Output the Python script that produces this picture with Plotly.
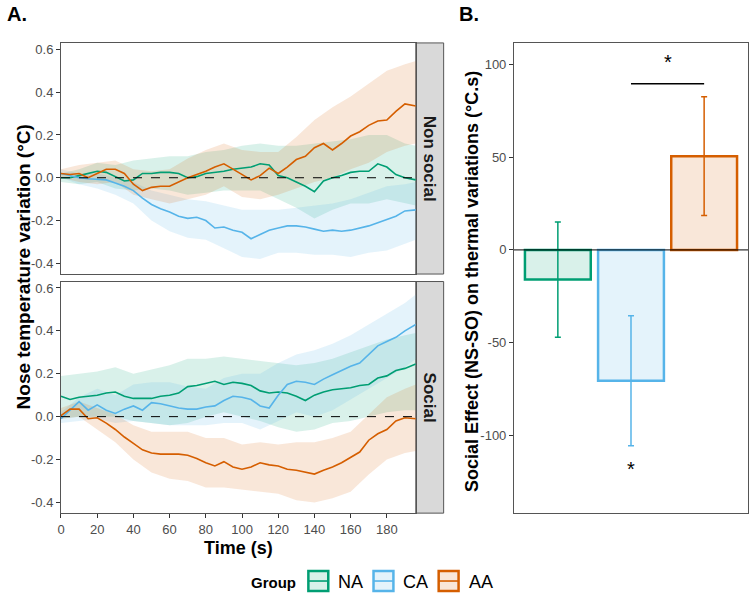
import plotly.graph_objects as go

# ---------------- data ----------------
GROUPS = ["NA", "CA", "AA"]
FACETS = ["Non social", "Social"]

# time grid for mean lines (s)
T = [0, 5, 10, 15, 20, 25, 30, 35, 40, 45, 50, 55, 60, 65, 70, 75, 80, 85, 90, 95,
     100, 105, 110, 115, 120, 125, 130, 135, 140, 145, 150, 155, 160, 165, 170, 175,
     180, 185, 190, 196]
# time grid for ribbons (s)
TR = [0, 10, 20, 30, 40, 50, 60, 70, 80, 90, 100, 110, 120, 130, 140, 150, 160, 170,
      180, 190, 196]

# Non social facet
NA_NS_MEAN = [0.0, 0.0, 0.01, 0.02, 0.03, 0.025, 0.005, -0.015, -0.01, 0.02,
              0.02, 0.025, 0.025, 0.02, 0.0, 0.005, 0.02, 0.025, 0.03, 0.04,
              0.045, 0.05, 0.065, 0.06, 0.01, 0.0, -0.02, -0.04, -0.065, -0.015,
              0.0, 0.01, 0.025, 0.03, 0.03, 0.065, 0.05, 0.015, 0.0, -0.01]
CA_NS_MEAN = [0.02, 0.01, 0.0, -0.005, -0.008, -0.01, -0.025, -0.04, -0.06, -0.095,
              -0.125, -0.145, -0.16, -0.18, -0.19, -0.185, -0.2, -0.235, -0.23, -0.245,
              -0.255, -0.285, -0.265, -0.245, -0.235, -0.225, -0.225, -0.23, -0.24, -0.25,
              -0.245, -0.25, -0.245, -0.235, -0.225, -0.21, -0.195, -0.18, -0.155, -0.15]
AA_NS_MEAN = [0.02, 0.015, 0.02, 0.0, 0.02, 0.04, 0.04, 0.02, -0.03, -0.06,
              -0.045, -0.04, -0.04, -0.02, 0.0, 0.015, 0.03, 0.05, 0.065, 0.04,
              0.015, -0.01, 0.01, 0.045, 0.02, 0.05, 0.085, 0.1, 0.14, 0.16,
              0.13, 0.16, 0.195, 0.215, 0.245, 0.265, 0.27, 0.31, 0.345, 0.335]

NA_NS_LO = [-0.02, -0.03, -0.02, -0.05, -0.06, -0.05, -0.06, -0.08, -0.07, -0.06, -0.06,
            -0.06, -0.1, -0.14, -0.19, -0.15, -0.12, -0.12, -0.1, -0.12, -0.13]
NA_NS_HI = [0.02, 0.04, 0.07, 0.06, 0.08, 0.09, 0.1, 0.1, 0.12, 0.13, 0.15,
            0.16, 0.15, 0.15, 0.16, 0.17, 0.18, 0.2, 0.2, 0.16, 0.15]
CA_NS_LO = [0.0, -0.03, -0.05, -0.08, -0.12, -0.2, -0.25, -0.28, -0.29, -0.33, -0.37,
            -0.38, -0.35, -0.35, -0.36, -0.36, -0.37, -0.35, -0.34, -0.31, -0.29]
CA_NS_HI = [0.04, 0.02, 0.02, 0.0, -0.02, -0.06, -0.08, -0.1, -0.11, -0.13, -0.15,
            -0.15, -0.15, -0.14, -0.13, -0.12, -0.1, -0.07, -0.04, -0.03, -0.02]
AA_NS_LO = [0.0, -0.02, -0.03, -0.02, -0.08, -0.1, -0.12, -0.1, -0.08, -0.04, -0.09,
            -0.1, -0.08, -0.05, -0.02, 0.0, 0.04, 0.07, 0.12, 0.15, 0.16]
AA_NS_HI = [0.04, 0.06, 0.07, 0.08, 0.04, 0.03, 0.04, 0.09, 0.13, 0.16, 0.13,
            0.12, 0.12, 0.19, 0.27, 0.33, 0.38, 0.44, 0.5, 0.53, 0.545]

# Social facet
NA_S_MEAN = [0.095, 0.08, 0.09, 0.095, 0.1, 0.11, 0.115, 0.095, 0.085, 0.085,
             0.085, 0.095, 0.1, 0.11, 0.14, 0.145, 0.155, 0.165, 0.15, 0.16,
             0.155, 0.145, 0.12, 0.11, 0.115, 0.11, 0.095, 0.075, 0.1, 0.115,
             0.125, 0.13, 0.135, 0.145, 0.15, 0.18, 0.19, 0.215, 0.225, 0.245]
CA_S_MEAN = [-0.01, 0.03, 0.07, 0.03, 0.055, 0.03, 0.015, 0.035, 0.05, 0.03,
             0.065, 0.06, 0.05, 0.04, 0.035, 0.035, 0.045, 0.05, 0.075, 0.095,
             0.09, 0.08, 0.05, 0.04, 0.1, 0.15, 0.165, 0.16, 0.15, 0.175,
             0.195, 0.215, 0.235, 0.25, 0.29, 0.33, 0.35, 0.37, 0.4, 0.43]
AA_S_MEAN = [0.005, 0.035, 0.035, -0.01, -0.005, -0.03, -0.06, -0.095, -0.125, -0.155,
             -0.17, -0.175, -0.175, -0.175, -0.18, -0.195, -0.215, -0.23, -0.21, -0.235,
             -0.245, -0.235, -0.215, -0.225, -0.23, -0.245, -0.25, -0.26, -0.268, -0.25,
             -0.235, -0.215, -0.19, -0.165, -0.11, -0.08, -0.06, -0.02, -0.005, -0.01]

NA_S_LO = [-0.01, 0.0, 0.0, 0.0, -0.02, -0.03, -0.04, -0.03, 0.0, 0.02, 0.0,
           -0.02, -0.05, -0.07, -0.06, -0.03, -0.02, 0.0, 0.02, 0.03, 0.03]
NA_S_HI = [0.19, 0.2, 0.21, 0.23, 0.2, 0.22, 0.24, 0.27, 0.27, 0.28, 0.27,
           0.26, 0.25, 0.24, 0.25, 0.27, 0.3, 0.33, 0.36, 0.38, 0.39]
CA_S_LO = [-0.03, -0.02, -0.01, -0.03, -0.02, -0.03, -0.04, -0.04, -0.04, -0.03, -0.03,
           -0.06, -0.02, 0.02, 0.0, 0.03, 0.08, 0.13, 0.18, 0.23, 0.27]
CA_S_HI = [0.02, 0.09, 0.13, 0.1, 0.15, 0.16, 0.16, 0.14, 0.13, 0.18, 0.2,
           0.2, 0.25, 0.29, 0.31, 0.34, 0.38, 0.43, 0.48, 0.53, 0.57]
AA_S_LO = [-0.01, 0.0, -0.06, -0.12, -0.2, -0.26, -0.29, -0.3, -0.33, -0.33, -0.34,
           -0.35, -0.36, -0.39, -0.4, -0.38, -0.35, -0.27, -0.2, -0.17, -0.16]
AA_S_HI = [0.04, 0.07, 0.04, 0.01, -0.04, -0.07, -0.07, -0.07, -0.1, -0.1, -0.13,
           -0.12, -0.13, -0.12, -0.12, -0.1, -0.07, 0.01, 0.09, 0.13, 0.15]

# Panel B: social effect (NS-SO) and SE
SOCIAL_EFFECT = [-16, -70.5, 50.5]
SOCIAL_SE = [31, 35, 32]
SIG_PAIR = ["CA", "AA"]
SIG_LINE_Y = 89.5
SIG_STAR_Y = [101, -116]   # bracket star, star under CA

TIME_TICKS = [0, 20, 40, 60, 80, 100, 120, 140, 160, 180]
TEMP_TICKS = [-0.4, -0.2, 0.0, 0.2, 0.4, 0.6]
TEMP_TICK_TEXT = ["-0.4", "-0.2", "0.0", "0.2", "0.4", "0.6"]
EFF_TICKS = [-100, -50, 0, 50, 100]
EFF_TICK_TEXT = ["-100", "-50", "0", "50", "100"]

# ---------------- styles ----------------
W, H = 752, 593
COLORS = {"NA": "#009E73", "CA": "#56B4E9", "AA": "#D55E00"}
FILLS = {"NA": "rgba(0,158,115,0.15)", "CA": "rgba(86,180,233,0.16)", "AA": "rgba(213,94,0,0.15)"}
FONT = "Liberation Sans, Arial, sans-serif"
TICKCOL = "#4D4D4D"
BORDER = "#555555"


def px(x):
    return x / W


def py(y):
    return 1 - y / H


series = {
    "Non social": {
        "NA": (NA_NS_MEAN, NA_NS_LO, NA_NS_HI),
        "CA": (CA_NS_MEAN, CA_NS_LO, CA_NS_HI),
        "AA": (AA_NS_MEAN, AA_NS_LO, AA_NS_HI),
    },
    "Social": {
        "NA": (NA_S_MEAN, NA_S_LO, NA_S_HI),
        "CA": (CA_S_MEAN, CA_S_LO, CA_S_HI),
        "AA": (AA_S_MEAN, AA_S_LO, AA_S_HI),
    },
}

fig = go.Figure()
axes = {"Non social": ("x", "y"), "Social": ("x2", "y2")}

for facet in FACETS:
    xa, ya = axes[facet]
    # ribbons
    for g in GROUPS:
        m, lo, hi = series[facet][g]
        fig.add_trace(go.Scatter(
            x=TR + TR[::-1], y=hi + lo[::-1], fill="toself", fillcolor=FILLS[g],
            line=dict(width=0), mode="lines", hoverinfo="skip", showlegend=False,
            xaxis=xa, yaxis=ya))
    # mean lines
    for g in GROUPS:
        m, lo, hi = series[facet][g]
        fig.add_trace(go.Scatter(
            x=T, y=m, mode="lines", line=dict(color=COLORS[g], width=1.6),
            showlegend=False, xaxis=xa, yaxis=ya))

# Panel B bars
for g, v, se in zip(GROUPS, SOCIAL_EFFECT, SOCIAL_SE):
    fig.add_trace(go.Bar(
        x=[g], y=[v], width=0.9, marker=dict(color=FILLS[g], line=dict(color=COLORS[g], width=2.5)),
        error_y=dict(type="data", array=[se], color=COLORS[g], thickness=1.5, width=3),
        showlegend=False, xaxis="x3", yaxis="y3"))

# significance bracket
fig.add_trace(go.Scatter(x=SIG_PAIR, y=[SIG_LINE_Y, SIG_LINE_Y], mode="lines",
                         line=dict(color="black", width=1.5), showlegend=False,
                         xaxis="x3", yaxis="y3"))

# ---------------- layout ----------------
A_X = [px(57.3), px(414)]
TOP_Y = [py(273.5), py(42)]
BOT_Y = [py(513), py(281)]
B_X = [px(512.7), px(748)]
B_Y = [py(513), py(42)]

axis_common = dict(showline=True, mirror=True, linecolor=BORDER, linewidth=1,
                   showgrid=False, zeroline=False,
                   tickfont=dict(family=FONT, size=13, color=TICKCOL))

fig.update_layout(
    width=W, height=H, margin=dict(l=0, r=0, t=0, b=0),
    paper_bgcolor="white", plot_bgcolor="white", barmode="overlay",
    showlegend=False,
    xaxis=dict(domain=A_X, anchor="y", range=[0, 196], showticklabels=False, ticks="",
               **axis_common),
    yaxis=dict(domain=TOP_Y, anchor="x", range=[-0.45, 0.63], tickvals=TEMP_TICKS,
               ticktext=TEMP_TICK_TEXT, ticks="outside", ticklen=4, tickcolor="#333",
               **axis_common),
    xaxis2=dict(domain=A_X, anchor="y2", range=[0, 196], tickvals=TIME_TICKS,
                ticks="outside", ticklen=4, tickcolor="#333", **axis_common),
    yaxis2=dict(domain=BOT_Y, anchor="x2", range=[-0.45, 0.63], tickvals=TEMP_TICKS,
                ticktext=TEMP_TICK_TEXT, ticks="outside", ticklen=4, tickcolor="#333",
                **axis_common),
    xaxis3=dict(domain=B_X, anchor="y3", type="category", categoryorder="array",
                categoryarray=GROUPS, range=[-0.6, 2.6], showticklabels=False, ticks="",
                **axis_common),
    yaxis3=dict(domain=B_Y, anchor="x3", range=[-141.8, 111.5], tickvals=EFF_TICKS,
                ticktext=EFF_TICK_TEXT, ticks="outside", ticklen=4, tickcolor="#333",
                **axis_common),
)

shapes = []
annotations = []


def label(x, y, text, size, **kw):
    d = dict(xref="paper", yref="paper", x=px(x), y=py(y), text=text, showarrow=False,
             xanchor=kw.pop("xanchor", "center"), yanchor=kw.pop("yanchor", "middle"),
             font=dict(family=FONT, size=size, color=kw.pop("color", "black")))
    d.update(kw)
    return d


# dashed zero lines in panel A, solid zero line in panel B
for xa, ya in axes.values():
    shapes.append(dict(type="line", xref=f"{xa} domain", yref=ya, x0=0, x1=1, y0=0, y1=0,
                       line=dict(color="black", width=1, dash="dash"), layer="above"))
shapes.append(dict(type="line", xref="x3 domain", yref="y3", x0=0, x1=1, y0=0, y1=0,
                   line=dict(color="black", width=1), layer="above"))

# facet strips
strip_x0, strip_x1 = 414, 442
for facet, (ytop, ybot) in zip(FACETS, [(42, 273.5), (281, 513)]):
    shapes.append(dict(type="rect", xref="paper", yref="paper", x0=px(strip_x0), x1=px(strip_x1),
                       y0=py(ybot), y1=py(ytop), fillcolor="#D9D9D9",
                       line=dict(color=BORDER, width=1), layer="below"))
    annotations.append(label((strip_x0 + strip_x1) / 2, (ytop + ybot) / 2, f"<b>{facet}</b>", 17,
                             textangle=90, color="#1A1A1A"))

# stars
annotations.append(dict(xref="x3", yref="y3",
                        x=(GROUPS.index(SIG_PAIR[0]) + GROUPS.index(SIG_PAIR[1])) / 2,
                        y=SIG_STAR_Y[0], text="*", showarrow=False, xanchor="center",
                        yanchor="middle", yshift=0,
                        font=dict(family=FONT, size=20, color="black")))
annotations.append(dict(xref="x3", yref="y3", x=GROUPS.index("CA"), y=SIG_STAR_Y[1], text="*",
                        showarrow=False, xanchor="center", yanchor="middle", yshift=-4,
                        font=dict(family=FONT, size=20, color="black")))

# titles
annotations += [
    label(1, 13, "<b>A.</b>", 20, xanchor="left"),
    label(455, 13, "<b>B.</b>", 20, xanchor="left"),
    label(20, 266, "<b>Nose temperature variation (°C)</b>", 19, textangle=-90),
    label(470, 281, "<b>Social Effect (NS-SO) on thermal variations (°C.s)</b>", 18, textangle=-90),
    label(236, 548, "<b>Time (s)</b>", 18),
    label(296, 582, "<b>Group</b>", 15, xanchor="right"),
]

# legend keys (ribbon + line glyph)
for i, g in enumerate(GROUPS):
    x0 = 306 + i * 65.5
    shapes.append(dict(type="rect", xref="paper", yref="paper", x0=px(x0), x1=px(x0 + 20),
                       y0=py(591), y1=py(571), fillcolor=FILLS[g],
                       line=dict(color=COLORS[g], width=2.5)))
    shapes.append(dict(type="line", xref="paper", yref="paper", x0=px(x0), x1=px(x0 + 20),
                       y0=py(581), y1=py(581), line=dict(color=COLORS[g], width=1.6)))
    annotations.append(label(x0 + 28, 582, g, 18, xanchor="left"))

fig.update_layout(shapes=shapes, annotations=annotations)
fig.write_html("out.html")
